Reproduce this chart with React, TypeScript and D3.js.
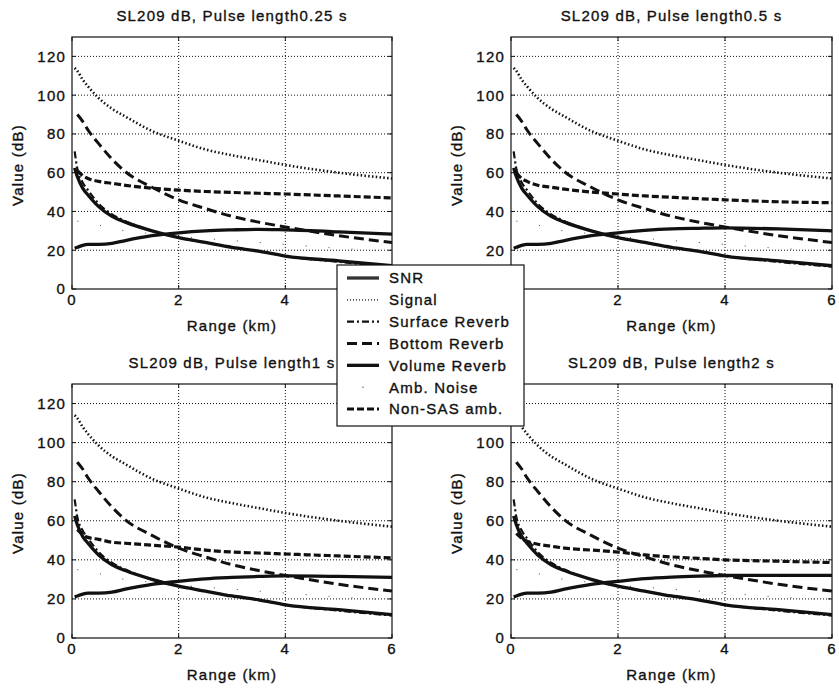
import React from "react";
import * as d3 from "d3";

// ---------- data ----------
const ranges = [0.05, 0.1, 0.2, 0.3, 0.5, 0.75, 1, 1.5, 2, 2.5, 3, 3.5, 4, 5, 6];
const pulseLengths = ["0.25", "0.5", "1", "2"];

const signal = [114, 112.5, 108, 104.5, 98.5, 93, 89, 81.5, 76.5, 72, 69, 66.5, 64, 60, 57];
const surfaceReverb = [71, 62, 55, 51, 44, 38.5, 35, 30, 26.5, 24, 21.5, 19.5, 17, 14, 11.5];
const volumeReverb = [62.5, 58, 52, 48.5, 42.5, 37.5, 34.5, 30, 26.5, 24, 21.5, 19.5, 17, 14.5, 12];
const bottomReverb = [null, 90, 86.5, 82, 75, 67, 60.5, 52.5, 46, 41.5, 37.5, 34.5, 32, 27.5, 24];
const ambNoise = [null, 35, 34.5, 34, 33, 31, 30, 28.5, 27, 26, 25, 24, 23, 21, 19.5];

const snr025 = [21, 21.5, 22.5, 23, 23, 23.5, 25, 27.5, 29, 30, 30.5, 30.8, 30.5, 29.5, 28.3];
const snr05 = [21, 21.5, 22.5, 23, 23, 23.5, 25, 27.5, 29, 30.2, 31, 31.3, 31.5, 31, 30];
const snr1 = [21, 21.5, 22.5, 23, 23, 23.5, 25, 27.5, 29, 30.3, 31, 31.5, 31.8, 31.5, 31];
const snr2 = [21, 21.5, 22.5, 23, 23, 23.5, 25, 27.5, 29, 30.4, 31.2, 31.7, 32, 32.1, 32.1];

const nonSas025 = [null, 61, 58.5, 57, 55.5, 54.5, 53.5, 52, 51, 50.3, 49.8, 49.4, 49, 48, 47];
const nonSas05 = [null, 60, 57, 55.5, 53.5, 52.5, 51.5, 50, 49, 48, 47.3, 46.6, 46, 45, 44.5];
const nonSas1 = [null, 55.5, 53, 51.5, 50.5, 49, 48.5, 47.5, 46.5, 45, 44, 43.5, 43, 42, 41];
const nonSas2 = [null, 53.5, 51, 49.5, 48, 47, 46, 45, 44, 42.5, 41.5, 40.8, 40, 39.3, 38.6];

const snrByPanel = [snr025, snr05, snr1, snr2];
const nonSasByPanel = [nonSas025, nonSas05, nonSas1, nonSas2];

const xTicks = [0, 2, 4, 6];
const yTicks = [0, 20, 40, 60, 80, 100, 120];
const legendLabels = ["SNR", "Signal", "Surface Reverb", "Bottom Reverb", "Volume Reverb", "Amb. Noise", "Non-SAS amb."];

// ---------- styles ----------
const FONT = "'Liberation Sans', Arial, Helvetica, sans-serif";
const INK = "#111";
const styles: Record<string, any> = {
  "SNR": { stroke: INK, width: 3.3, dash: null },
  "Signal": { stroke: INK, width: 2.6, dash: "1.5 2.3" },
  "Surface Reverb": { stroke: INK, width: 2.2, dash: "7 3 2 3" },
  "Bottom Reverb": { stroke: INK, width: 3, dash: "10 5" },
  "Volume Reverb": { stroke: INK, width: 3.3, dash: null },
  "Amb. Noise": { stroke: "#444", width: 1, dash: "1 22" },
  "Non-SAS amb.": { stroke: INK, width: 3.2, dash: "7 3" },
};

const panels = [
  { left: 72, top: 37, width: 320, height: 252 },
  { left: 511, top: 37, width: 321, height: 252 },
  { left: 72, top: 384, width: 320, height: 254 },
  { left: 511, top: 384, width: 321, height: 254 },
];

const textStyle = {
  fontFamily: FONT,
  fontSize: 15,
  letterSpacing: "1.2px",
  fill: INK,
  stroke: INK,
  strokeWidth: 0.35,
} as any;

function Panel({ idx }: { idx: number }) {
  const p = panels[idx];
  const x = d3.scaleLinear().domain([0, 6]).range([p.left, p.left + p.width]);
  const y = d3.scaleLinear().domain([0, 130]).range([p.top + p.height, p.top]);
  const line = d3
    .line<[number, number | null]>()
    .defined((d) => d[1] != null)
    .x((d) => x(d[0]))
    .y((d) => y(d[1] as number))
    .curve(d3.curveMonotoneX);
  const series: [string, (number | null)[]][] = [
    ["Amb. Noise", ambNoise],
    ["Signal", signal],
    ["Bottom Reverb", bottomReverb],
    ["Non-SAS amb.", nonSasByPanel[idx]],
    ["Surface Reverb", surfaceReverb],
    ["Volume Reverb", volumeReverb],
    ["SNR", snrByPanel[idx]],
  ];
  const bottom = p.top + p.height;
  const right = p.left + p.width;
  const cx = p.left + p.width / 2;
  const clipId = `clip${idx}`;
  return (
    <g>
      <defs>
        <clipPath id={clipId}>
          <rect x={p.left} y={p.top} width={p.width} height={p.height} />
        </clipPath>
      </defs>
      {/* grid */}
      {xTicks.slice(1, -1).map((t) => (
        <line key={"gx" + t} x1={x(t)} x2={x(t)} y1={p.top} y2={bottom} stroke={INK} strokeWidth={1} strokeDasharray="1 2" />
      ))}
      {yTicks.slice(1).map((t) => (
        <line key={"gy" + t} x1={p.left} x2={right} y1={y(t)} y2={y(t)} stroke={INK} strokeWidth={1} strokeDasharray="1 2" />
      ))}
      {/* series */}
      <g clipPath={`url(#${clipId})`}>
        {series.map(([name, vals]) => {
          const s = styles[name];
          const pts = ranges.map((r, i) => [r, vals[i]] as [number, number | null]);
          return (
            <path
              key={name}
              d={line(pts) || ""}
              fill="none"
              stroke={s.stroke}
              strokeWidth={s.width}
              strokeDasharray={s.dash || undefined}
              strokeLinejoin="round"
            />
          );
        })}
      </g>
      {/* ticks inward */}
      {xTicks.map((t) => (
        <g key={"tx" + t}>
          <line x1={x(t)} x2={x(t)} y1={bottom} y2={bottom - 4} stroke={INK} />
          <line x1={x(t)} x2={x(t)} y1={p.top} y2={p.top + 4} stroke={INK} />
          <text x={x(t)} y={bottom + 16} textAnchor="middle" style={textStyle}>
            {t}
          </text>
        </g>
      ))}
      {yTicks.map((t) => (
        <g key={"ty" + t}>
          <line x1={p.left} x2={p.left + 4} y1={y(t)} y2={y(t)} stroke={INK} />
          <line x1={right} x2={right - 4} y1={y(t)} y2={y(t)} stroke={INK} />
          <text x={p.left - 6} y={y(t)} dy="0.36em" textAnchor="end" style={textStyle}>
            {t}
          </text>
        </g>
      ))}
      {/* box */}
      <rect x={p.left} y={p.top} width={p.width} height={p.height} fill="none" stroke={INK} strokeWidth={1.2} />
      {/* labels */}
      <text x={cx} y={p.top - 16} textAnchor="middle" style={textStyle}>
        {`SL209 dB, Pulse length${pulseLengths[idx]} s`}
      </text>
      <text x={cx} y={bottom + 42} textAnchor="middle" style={textStyle}>
        Range (km)
      </text>
      <text
        transform={`translate(${p.left - 49},${p.top + p.height / 2 + 2}) rotate(-90)`}
        textAnchor="middle"
        style={textStyle}
      >
        Value (dB)
      </text>
    </g>
  );
}

function Legend() {
  const lx = 337, ly = 265, lw = 187, lh = 161;
  const row = d3.scaleLinear().domain([0, 6]).range([ly + 13, ly + 144]);
  return (
    <g>
      <rect x={lx} y={ly} width={lw} height={lh} fill="#fff" stroke={INK} strokeWidth={1.2} />
      {legendLabels.map((name, i) => {
        const s = styles[name];
        const yy = row(i);
        return (
          <g key={name}>
            {name === "Amb. Noise" ? (
              <circle cx={363} cy={yy} r={0.7} fill="#444" />
            ) : (
              <line
                x1={347}
                x2={379}
                y1={yy}
                y2={yy}
                stroke={name === "SNR" ? "#333" : s.stroke}
                strokeWidth={name === "Signal" ? 1.3 : s.width}
                strokeDasharray={name === "Signal" ? "1 2" : s.dash || undefined}
              />
            )}
            <text x={389} y={yy} dy="0.36em" style={textStyle}>
              {name}
            </text>
          </g>
        );
      })}
    </g>
  );
}

export default function App() {
  return (
    <svg
      width={839}
      height={688}
      viewBox="0 0 839 688"
      style={{ position: "absolute", left: 0, top: 0, background: "#fff" }}
    >
      <rect x={0} y={0} width={839} height={688} fill="#fff" />
      {panels.map((_, i) => (
        <Panel key={i} idx={i} />
      ))}
      <Legend />
    </svg>
  );
}
